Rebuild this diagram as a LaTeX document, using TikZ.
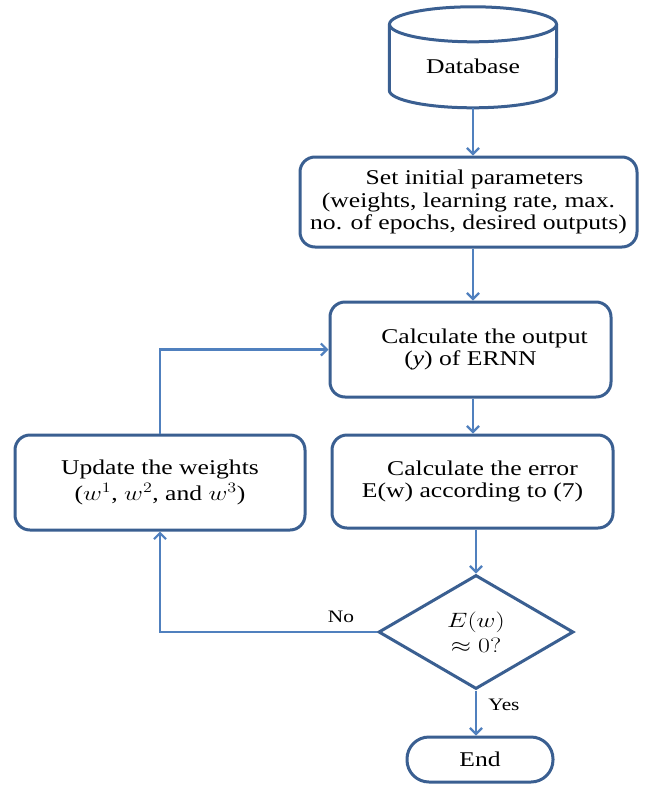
\documentclass[tikz,border=0pt]{standalone}
\usepackage{fontspec}
\usepackage{graphicx}
\setmainfont{Liberation Serif}[FakeStretch=1.22]
\usetikzlibrary{arrows.meta,shapes.geometric}
\definecolor{edgeblue}{RGB}{58,95,145}
\definecolor{flowblue}{RGB}{80,128,190}
% math stretched to sit with the widened text face
\newcommand{\wmath}[1]{\scalebox{1.25}[1]{$#1$}}
\begin{document}
\begin{tikzpicture}[x=1pt,y=-1pt,
  font=\fontsize{21}{22.5}\selectfont,
  stepbox/.style={draw=edgeblue, line width=3pt, rounded corners=15pt,
    align=center, inner sep=0pt, fill=white},
  decision/.style={diamond, draw=edgeblue, line width=3pt, align=center,
    inner sep=0pt, aspect=1.73},
  terminal/.style={draw=edgeblue, line width=3pt, rounded corners=22pt,
    inner sep=0pt},
  flow/.style={draw=flowblue, line width=2.2pt,
    -{Straight Barb[length=6pt,width=12pt]}},
  lbl/.style={inner sep=0pt, font=\fontsize{17.5}{19}\selectfont}]
\fill[white] (0,0) rectangle (654,785);
\useasboundingbox (0,0) rectangle (654,785);

% database cylinder
\node[minimum width=167pt, minimum height=83.5pt, inner sep=0pt] (db) at (473,66.25) {Database};
\draw[edgeblue, line width=3pt] (db.north west) -- ++(0,66)
  arc[start angle=180, end angle=360, x radius=83.5pt, y radius=17.5pt]
  -- (db.north east);
\draw[edgeblue, line width=3pt] (db.north) ellipse [x radius=83.5pt, y radius=17.5pt];

% process steps
\node[stepbox, minimum width=337pt, minimum height=90pt] (init) at (468.5,202)
  {\hspace*{12pt}Set initial parameters\\(weights, learning rate, max.\\no. of epochs, desired outputs)};
\node[stepbox, minimum width=281pt, minimum height=95pt] (out) at (470.5,349.5)
  {\hspace*{28pt}Calculate the output\\(\textit{y}) of ERNN};
\node[stepbox, minimum width=281pt, minimum height=93pt] (err) at (472.5,481.5)
  {\hspace*{20pt}Calculate the error\\E(w) according to (7)};
\node[stepbox, minimum width=290pt, minimum height=95pt] (upd) at (160,482.5)
  {Update the weights\\[3pt](\wmath{w^1}, \wmath{w^2}, and \wmath{w^3})};
\node[decision, minimum width=195pt, minimum height=114pt] (dec) at (476,632)
  {\wmath{E(w)}\\[3pt]\wmath{\approx 0?}};
\node[terminal, minimum width=146pt, minimum height=45pt] (end) at (480,759.5) {End};

% connectors
\draw[flow] (db.south) -- (db.south |- init.north);
\draw[flow] (db.south |- init.south) -- (db.south |- out.north);
\draw[flow] (db.south |- out.south) -- (db.south |- err.north);
\draw[flow] (dec.north |- err.south) -- (dec.north);
\draw[flow] (dec.west) -| (upd.south);
\draw[flow] (upd.north) |- (out.west);
\draw[flow] (dec.south) -- (end.north -| dec.south);

% branch labels
\node[lbl] (no) at (341,617) {No};
\node[lbl] (yes) at (504,705) {Yes};
\end{tikzpicture}
\end{document}
